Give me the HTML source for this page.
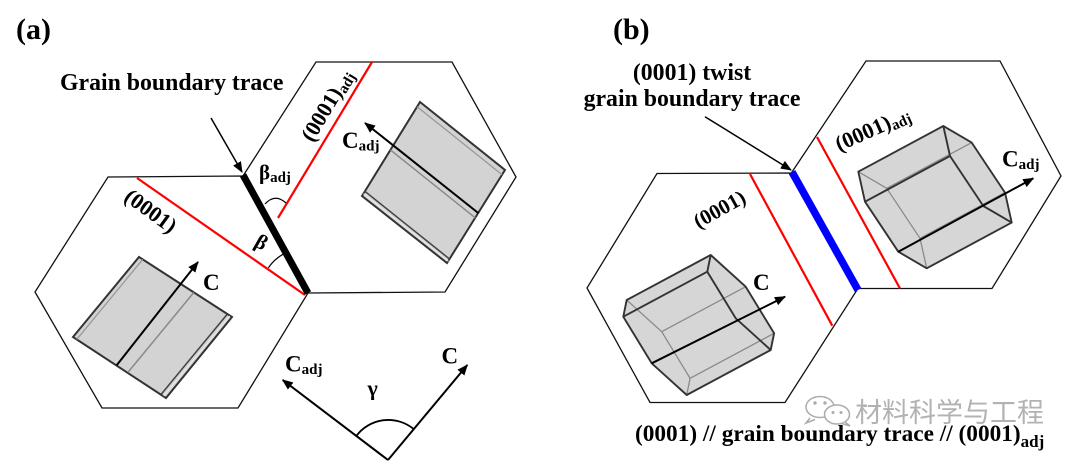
<!DOCTYPE html>
<html><head><meta charset="utf-8">
<style>
html,body{margin:0;padding:0;background:#fff;}
svg{display:block;}
text{font-family:"Liberation Serif","Times New Roman",serif;font-weight:bold;fill:#000;}
.cjk{font-family:"Liberation Sans","Noto Sans CJK SC","WenQuanYi Zen Hei",sans-serif;font-weight:normal;fill:#b2b2b2;}
</style></head><body>
<svg width="1080" height="462" viewBox="0 0 1080 462" xmlns="http://www.w3.org/2000/svg">
<defs>
<marker id="ah" markerUnits="userSpaceOnUse" markerWidth="11" markerHeight="9" refX="10" refY="4.5" orient="auto">
<path d="M0,0 L11,4.5 L0,9 z" fill="#000"/>
</marker>
</defs>
<rect width="1080" height="462" fill="#fff"/>

<!-- ============ PANEL (a) ============ -->
<text x="16" y="39" font-size="30">(a)</text>
<text x="60" y="90" font-size="23.8">Grain boundary trace</text>

<!-- hexagons -->
<polygon points="108,177 243,176 308,293 238,408 102,408 35,292" fill="none" stroke="#111" stroke-width="1.3"/>
<polygon points="243,176 316,62 452,62 516,177 445,292 308,293" fill="none" stroke="#111" stroke-width="1.3"/>

<!-- red traces -->
<line x1="137" y1="178" x2="305" y2="295" stroke="#ff0000" stroke-width="2.2"/>
<line x1="372" y1="62" x2="278" y2="218" stroke="#ff0000" stroke-width="2.2"/>

<!-- grain boundary -->
<line x1="243" y1="175" x2="308" y2="293" stroke="#000" stroke-width="7"/>
<line x1="211" y1="118" x2="242" y2="172" stroke="#000" stroke-width="1.5" marker-end="url(#ah)"/>

<!-- angle arcs -->
<path d="M265,204 Q275,193 286,203" fill="none" stroke="#000" stroke-width="1.2"/>
<path d="M268.3,267.8 A46,46 0 0,1 283.9,253.7" fill="none" stroke="#000" stroke-width="1.2"/>
<text x="259" y="179.5" font-size="21">β<tspan font-size="15" dy="2.5">adj</tspan></text>
<text transform="translate(261,243) rotate(30)" x="0" y="6" font-size="21" text-anchor="middle">β</text>

<!-- rotated plane labels -->
<text transform="translate(150,212) rotate(36)" x="0" y="6" font-size="22" text-anchor="middle">(0001)</text>
<text transform="translate(328,106) rotate(-59)" x="0" y="6" font-size="22" text-anchor="middle">(0001)<tspan font-size="15" dy="3">adj</tspan></text>

<!-- left crystal (a) -->
<polygon points="139,257 232,317 166,398 73,337" fill="#d3d3d3" stroke="#333" stroke-width="2"/>
<line x1="76.7" y1="339.4" x2="142.7" y2="259.4" stroke="#999" stroke-width="1.3"/>
<line x1="127.9" y1="372.4" x2="193.9" y2="292.4" stroke="#8a8a8a" stroke-width="1.5"/>
<line x1="161.4" y1="394" x2="227.4" y2="314" stroke="#444" stroke-width="1.5"/>
<line x1="163.7" y1="396" x2="229.7" y2="316" stroke="#ececec" stroke-width="1"/>
<line x1="116.7" y1="365.2" x2="198" y2="262" stroke="#000" stroke-width="2" marker-end="url(#ah)"/>
<text x="203" y="290" font-size="23">C</text>

<!-- right crystal (a) -->
<polygon points="420,102 505,170 447,263 362,196" fill="#d3d3d3" stroke="#333" stroke-width="2"/>
<line x1="417.1" y1="106.7" x2="502.1" y2="174.7" stroke="#999" stroke-width="1.3"/>
<line x1="390.4" y1="149.9" x2="475.4" y2="217.9" stroke="#8a8a8a" stroke-width="1.5"/>
<line x1="364.9" y1="191.3" x2="449.9" y2="259.3" stroke="#444" stroke-width="1.5"/>
<line x1="363.5" y1="193.7" x2="448.5" y2="261.3" stroke="#ececec" stroke-width="1"/>
<line x1="478.4" y1="213.1" x2="365" y2="123" stroke="#000" stroke-width="2" marker-end="url(#ah)"/>
<text x="342" y="148" font-size="23">C<tspan font-size="15" dy="2.5">adj</tspan></text>

<!-- gamma diagram -->
<line x1="388" y1="460" x2="282.7" y2="380" stroke="#000" stroke-width="2" marker-end="url(#ah)"/>
<line x1="388" y1="460" x2="467.3" y2="365" stroke="#000" stroke-width="2" marker-end="url(#ah)"/>
<path d="M356.4,435.8 A40,40 0 0,1 413.9,429.2" fill="none" stroke="#000" stroke-width="1.8"/>
<text x="285" y="371.7" font-size="23">C<tspan font-size="15" dy="2.5">adj</tspan></text>
<text x="441.5" y="363.3" font-size="23">C</text>
<text x="367.5" y="395.5" font-size="22">γ</text>

<!-- ============ PANEL (b) ============ -->
<text x="613" y="39" font-size="30">(b)</text>
<text x="692" y="80" font-size="23.8" text-anchor="middle">(0001) twist</text>
<text x="692" y="106" font-size="23.8" text-anchor="middle">grain boundary trace</text>

<polygon points="657,173.5 792,173 857,290 785,402.5 650,402.5 587,288" fill="none" stroke="#111" stroke-width="1.3"/>
<polygon points="792,172 866,61 1000,61 1061,176 992,288.5 858,288.5" fill="none" stroke="#111" stroke-width="1.3"/>

<line x1="750" y1="174" x2="832.3" y2="325.7" stroke="#ff0000" stroke-width="2.2"/>
<line x1="817" y1="137" x2="900" y2="288.5" stroke="#ff0000" stroke-width="2.2"/>
<line x1="792" y1="172" x2="858" y2="290" stroke="#0000ff" stroke-width="7.5"/>
<line x1="705" y1="116.7" x2="791" y2="170" stroke="#000" stroke-width="1.5" marker-end="url(#ah)"/>

<text transform="translate(720,210) rotate(-29)" x="0" y="6" font-size="21" text-anchor="middle">(0001)</text>
<text transform="translate(873,130) rotate(-24)" x="0" y="6" font-size="22" text-anchor="middle">(0001)<tspan font-size="15" dy="3">adj</tspan></text>

<!-- left cube (b) -->
<polygon points="626.7,300 710.7,255 745.7,286.7 774.1,333.3 770.7,350 686.7,395 651.7,363.3 623.3,316.7" fill="#d6d6d6" stroke="none"/>
<g stroke="#8a8a8a" stroke-width="1.3" fill="none">
<line x1="626.7" y1="300" x2="661.7" y2="331.7"/>
<line x1="661.7" y1="331.7" x2="690.1" y2="378.3"/>
<line x1="690.1" y1="378.3" x2="686.7" y2="395"/>
<line x1="661.7" y1="331.7" x2="745.7" y2="286.7"/>
<line x1="690.1" y1="378.3" x2="774.1" y2="333.3"/>
</g>
<g stroke="#333" stroke-width="1.9" fill="none" stroke-linejoin="round">
<polygon points="626.7,300 710.7,255 745.7,286.7 774.1,333.3 770.7,350 686.7,395 651.7,363.3 623.3,316.7"/>
<line x1="623.3" y1="316.7" x2="707.3" y2="271.7"/>
<line x1="710.7" y1="255" x2="707.3" y2="271.7"/>
<polyline points="707.3,271.7 735.7,318.3 770.7,350"/>
</g>
<line x1="651.7" y1="363.3" x2="785" y2="296.7" stroke="#000" stroke-width="2" marker-end="url(#ah)"/>
<text x="753" y="290" font-size="23">C</text>

<!-- right cube (b) -->
<polygon points="858.3,171.7 943.3,126 971.7,142.6 1005,192.6 1011.7,222.6 926.7,268.3 898.3,251.7 865,201.7" fill="#d6d6d6" stroke="none"/>
<g stroke="#8a8a8a" stroke-width="1.3" fill="none">
<line x1="858.3" y1="171.7" x2="886.7" y2="188.3"/>
<line x1="886.7" y1="188.3" x2="920" y2="238.3"/>
<line x1="920" y1="238.3" x2="926.7" y2="268.3"/>
<line x1="886.7" y1="188.3" x2="971.7" y2="142.6"/>
<line x1="920" y1="238.3" x2="1005" y2="192.6"/>
</g>
<g stroke="#333" stroke-width="1.9" fill="none" stroke-linejoin="round">
<polygon points="858.3,171.7 943.3,126 971.7,142.6 1005,192.6 1011.7,222.6 926.7,268.3 898.3,251.7 865,201.7"/>
<line x1="865" y1="201.7" x2="950" y2="156"/>
<line x1="950" y1="156" x2="943.3" y2="126"/>
<polyline points="950,156 983.3,206 1011.7,222.6"/>
</g>
<line x1="898.3" y1="251.7" x2="1033.3" y2="178.3" stroke="#000" stroke-width="2" marker-end="url(#ah)"/>
<text x="1002" y="166.7" font-size="23">C<tspan font-size="15" dy="2.5">adj</tspan></text>

<!-- watermark -->
<g stroke="#ababab" stroke-width="1.5" fill="#fff">
<path d="M810,418 L806,423 L815,419.5" fill="#fff"/>
<ellipse cx="820" cy="407" rx="14" ry="10.5"/>
<ellipse cx="837" cy="414.5" rx="12.5" ry="9.5"/>
<path d="M845,422 L850,426 L842,423.5"/>
</g>
<g fill="#ababab">
<circle cx="815" cy="403" r="1.7"/><circle cx="825" cy="403" r="1.7"/>
<circle cx="833" cy="412.5" r="1.5"/><circle cx="841" cy="412.5" r="1.5"/>
</g>
<text class="cjk" x="855" y="422" font-size="27">材料科学与工程</text>

<!-- bottom caption -->
<text x="635" y="441" font-size="23.3">(0001) // grain boundary trace // (0001)<tspan font-size="17" dy="6">adj</tspan></text>
</svg>
</body></html>
